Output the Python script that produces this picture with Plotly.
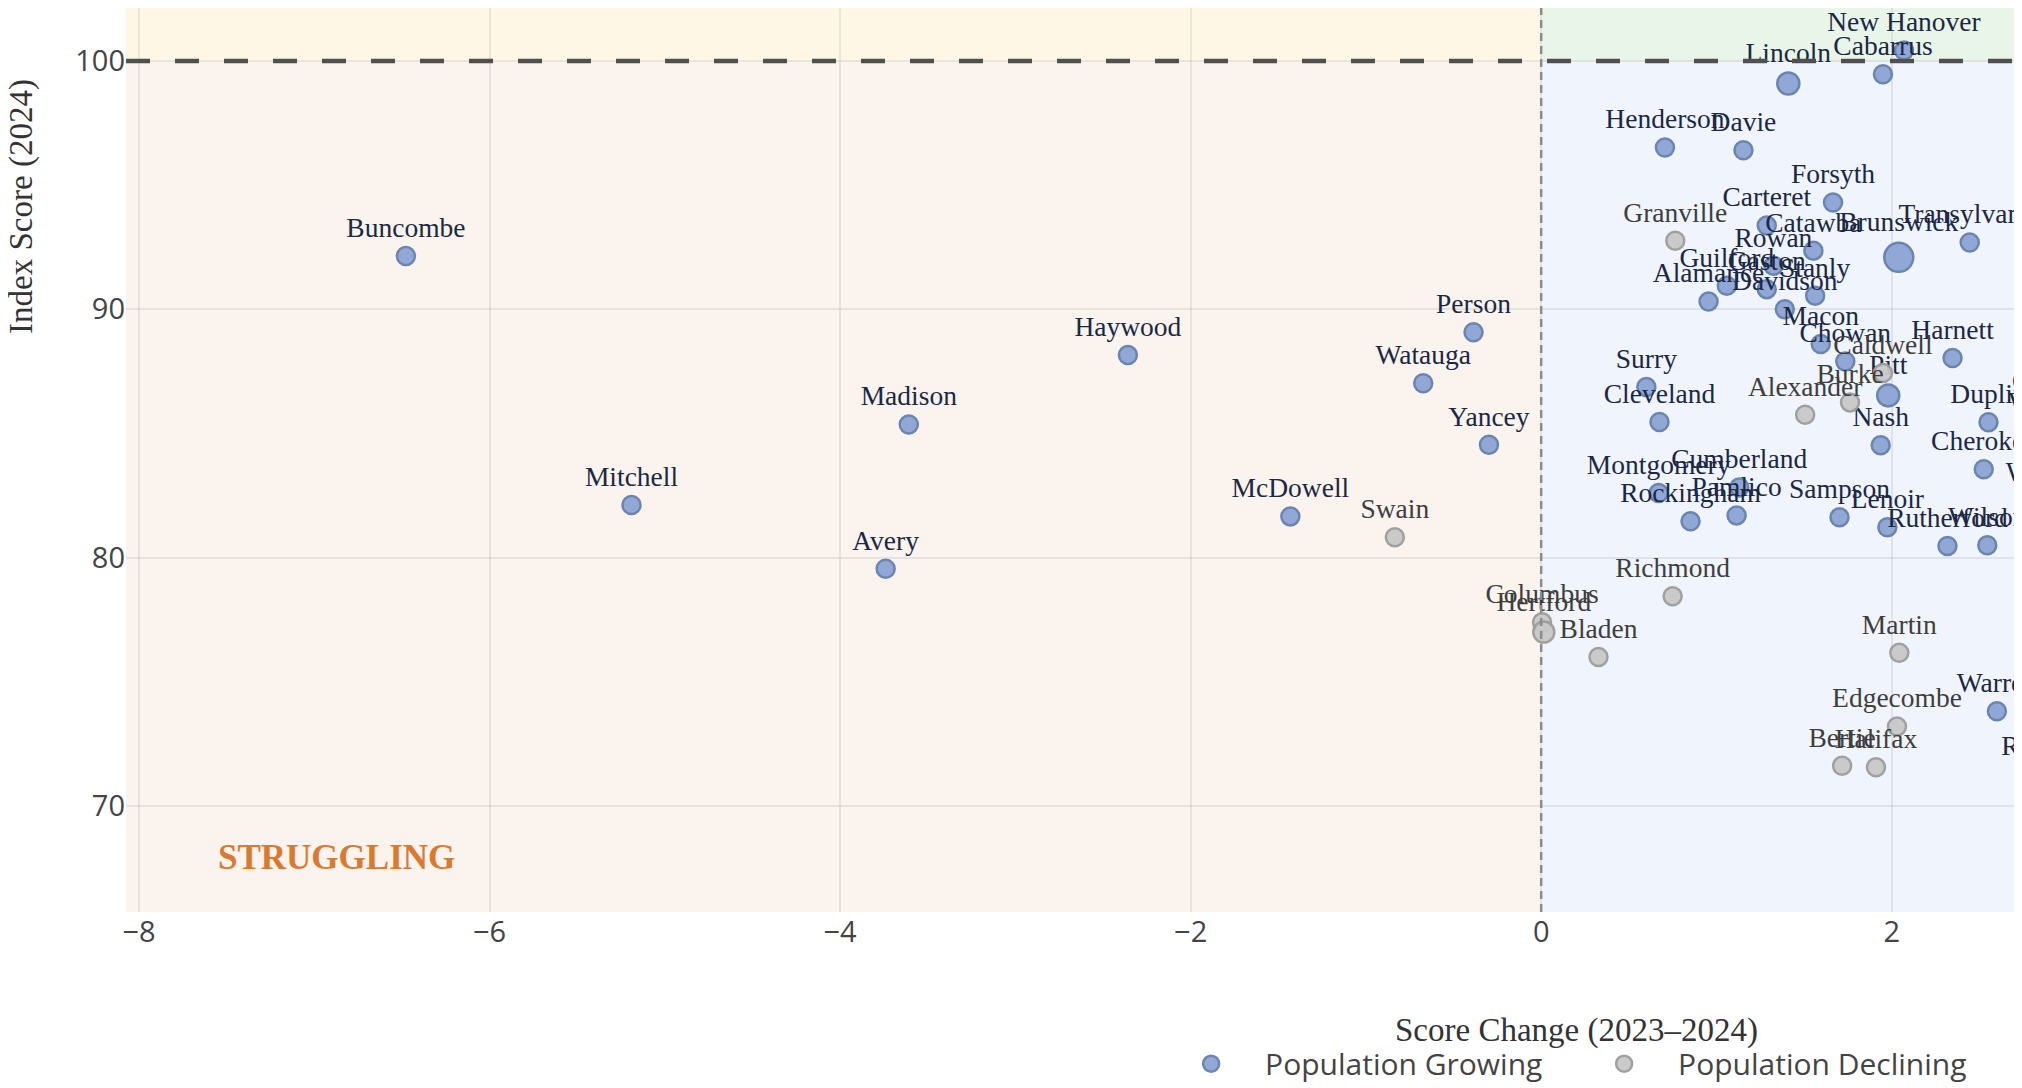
import plotly.graph_objects as go

# ---------------- data ----------------
grow_names = ["Buncombe", "Mitchell", "Avery", "Madison", "Haywood", "McDowell", "Watauga",
              "Person", "Yancey", "Lincoln", "Cabarrus", "New Hanover", "Henderson", "Davie",
              "Forsyth", "Carteret", "Catawba", "Brunswick", "Transylvania", "Rowan", "Guilford",
              "Gaston", "Stanly", "Alamance", "Davidson", "Macon", "Chowan", "Harnett", "Pitt",
              "Nash", "Surry", "Cleveland", "Montgomery", "Rockingham", "Cumberland", "Pamlico",
              "Sampson", "Lenoir", "Duplin", "Cherokee", "Rutherford", "Wilson", "Warren",
              "Franklin", "Chatham", "Wayne", "Wilkes", "Robeson"]
grow_change = [-6.477, -5.19, -3.74, -3.608, -2.358, -1.431, -0.673,
               -0.386, -0.298, 1.41, 1.95, 2.07, 0.706, 1.154,
               1.665, 1.287, 1.553, 2.04, 2.445, 1.325, 1.059,
               1.287, 1.563, 0.955, 1.39, 1.595, 1.735, 2.347, 1.98,
               1.937, 0.60, 0.675, 0.67, 0.852, 1.13, 1.115,
               1.702, 1.975, 2.552, 2.525, 2.318, 2.545, 2.60,
               2.96, 2.97, 2.88, 2.87, 2.90]
grow_score = [92.14, 82.12, 79.55, 85.36, 88.16, 81.66, 87.02,
              89.07, 84.54, 99.09, 99.46, 100.42, 96.51, 96.40,
              94.30, 93.37, 92.36, 92.09, 92.69, 91.75, 90.95,
              90.81, 90.54, 90.31, 90.0, 88.60, 87.90, 88.04, 86.53,
              84.52, 86.87, 85.46, 82.6, 81.46, 82.82, 81.70,
              81.62, 81.22, 85.45, 83.56, 80.47, 80.50, 73.81,
              96.26, 85.96, 85.15, 82.30, 71.27]
grow_size = [18, 18, 18, 18, 18, 18, 18,
             18, 18, 22, 18, 18, 18, 18,
             18, 18, 18, 29, 18, 18, 18,
             18, 18, 18, 18, 18, 18, 18, 22,
             18, 18, 18, 18, 18, 18, 18,
             18, 18, 18, 18, 18, 18, 18,
             18, 18, 18, 18, 18]

decl_names = ["Swain", "Columbus", "Hertford", "Bladen", "Richmond", "Granville", "Caldwell",
              "Burke", "Alexander", "Martin", "Edgecombe", "Bertie", "Halifax"]
decl_change = [-0.835, 0.005, 0.015, 0.327, 0.75, 0.765, 1.95,
               1.762, 1.506, 2.043, 2.03, 1.717, 1.91]
decl_score = [80.82, 77.40, 77.00, 76.00, 78.44, 92.76, 87.43,
              86.25, 85.75, 76.17, 73.20, 71.62, 71.56]
decl_size = [18, 18, 21, 18, 18, 18, 18,
             18, 18, 18, 18, 18, 18]

x_ticks = [-8, -6, -4, -2, 0, 2, 4, 6, 8]
x_tick_labels = ["−8", "−6", "−4", "−2", "0", "2", "4", "6", "8"]
y_ticks = [70, 80, 90, 100]

X_RANGE = [-8.074, 8.477]
Y_RANGE = [65.73, 102.13]
BASELINE = 100
ZERO = 0

SERIF = "Liberation Serif, Times New Roman, serif"
SANS = "Open Sans, sans-serif"

fig = go.Figure()

fig.add_trace(go.Scatter(
    x=grow_change, y=grow_score, text=grow_names, mode="markers+text",
    name="Population Growing", textposition="top center",
    textfont=dict(family=SERIF, size=27.5, color="#1b2845"),
    marker=dict(size=grow_size, color="#8ca4d6", opacity=0.95,
                line=dict(color="#6480ad", width=2.5)),
    cliponaxis=False,
))
fig.add_trace(go.Scatter(
    x=decl_change, y=decl_score, text=decl_names, mode="markers+text",
    name="Population Declining", textposition="top center",
    textfont=dict(family=SERIF, size=27.5, color="#3e3e3e"),
    marker=dict(size=decl_size, color="#c8c8c8", opacity=0.95,
                line=dict(color="#9c9c9c", width=2.5)),
    cliponaxis=False,
))

shapes = [
    dict(type="rect", xref="x", yref="y", x0=X_RANGE[0], x1=ZERO, y0=BASELINE, y1=Y_RANGE[1],
         fillcolor="#fff7e6", line_width=0, layer="below"),
    dict(type="rect", xref="x", yref="y", x0=ZERO, x1=X_RANGE[1], y0=BASELINE, y1=Y_RANGE[1],
         fillcolor="#eaf5ea", line_width=0, layer="below"),
    dict(type="rect", xref="x", yref="y", x0=X_RANGE[0], x1=ZERO, y0=Y_RANGE[0], y1=BASELINE,
         fillcolor="#fbf3ee", line_width=0, layer="below"),
    dict(type="rect", xref="x", yref="y", x0=ZERO, x1=X_RANGE[1], y0=Y_RANGE[0], y1=BASELINE,
         fillcolor="#f0f4fc", line_width=0, layer="below"),
    dict(type="line", xref="paper", yref="y", x0=0, x1=1, y0=BASELINE, y1=BASELINE,
         line=dict(color="#505050", width=4.5, dash="24px,25px")),
    dict(type="line", xref="x", yref="paper", x0=ZERO, x1=ZERO, y0=0, y1=1,
         line=dict(color="#8c8c8c", width=2.5, dash="8px,5px")),
]

annotations = [
    dict(text="<b>STRUGGLING</b>", xref="x", yref="y", x=-6.874, y=67.91, showarrow=False,
         font=dict(family=SERIF, size=35, color="#d97a30"), xanchor="center", yanchor="middle"),
    dict(text="Score Change (2023–2024)", xref="paper", yref="paper", x=0.5, y=0,
         yshift=-118, showarrow=False, xanchor="center", yanchor="middle",
         font=dict(family=SERIF, size=33, color="#333333")),
    dict(text="Index Score (2024)", xref="paper", yref="paper", x=0, y=0.78,
         xshift=-104, showarrow=False, xanchor="center", yanchor="middle", textangle=-90,
         font=dict(family=SERIF, size=33, color="#333333")),
]

fig.update_layout(
    width=3119, height=1104,
    margin=dict(l=118, r=100, t=0, b=200),
    paper_bgcolor="white", plot_bgcolor="white",
    shapes=shapes, annotations=annotations,
    font=dict(family=SANS, size=29, color="#444444"),
    showlegend=True,
    legend=dict(orientation="h", x=0.4978, xanchor="center", y=-0.139, yanchor="top",
                itemwidth=98, entrywidth=300, entrywidthmode="pixels",
                font=dict(family=SANS, size=30, color="#444444")),
    xaxis=dict(range=X_RANGE, tickvals=x_ticks, ticktext=x_tick_labels,
               showgrid=True, gridcolor="rgba(0,0,0,0.07)", gridwidth=2, zeroline=False,
               showline=False, ticks="", tickfont=dict(size=29)),
    yaxis=dict(range=Y_RANGE, tickvals=y_ticks, showgrid=True, gridcolor="rgba(0,0,0,0.07)",
               gridwidth=2, zeroline=False, showline=False, ticks="", tickfont=dict(size=29)),
)

fig.write_html("out.html")
